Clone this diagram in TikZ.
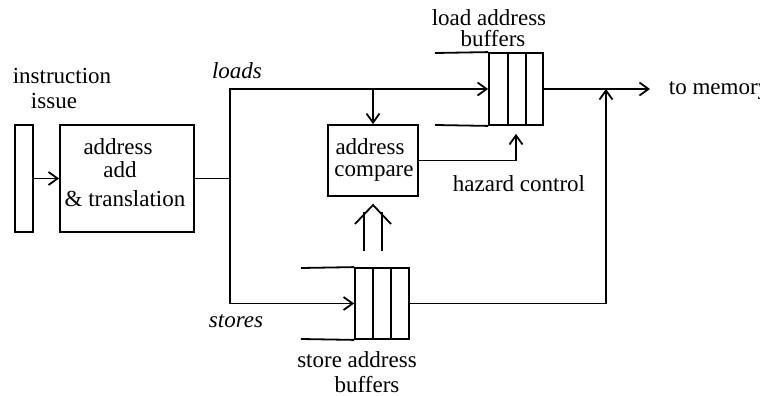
\documentclass[tikz,border=0pt]{standalone}
\usepackage{fontspec}
\setmainfont{Liberation Serif}
\usetikzlibrary{arrows.meta,positioning}
\begin{document}
\begin{tikzpicture}[x=0.5pt,y=-0.5pt,
  line width=0.9pt,
  every node/.style={font=\fontsize{11.5}{12}\selectfont, inner sep=0pt},
  box/.style={draw, line width=0.9pt},
  arr/.style={-{Straight Barb[length=4.5pt,width=6.5pt,line width=0.9pt]}},
  lbl/.style={align=center}]
\useasboundingbox (0,0) rectangle (760,396);
% boxes
\node[box, minimum width=9pt, minimum height=53.5pt] (bar) at (24,178.5) {};
\node[box, minimum width=67pt, minimum height=53.5pt] (addr) at (127,178.5) {};
\node[box, minimum width=45pt, minimum height=35.5pt] (cmp) at (373,160.5) {};
\node[box, minimum width=27pt, minimum height=36pt] (lbuf) at (516,89) {};
\node[box, minimum width=27pt, minimum height=35.5pt] (sbuf) at (382,303.5) {};
% buffer details
\draw (435,53) -- (lbuf.north west);
\draw (435,125) -- (lbuf.south west);
\draw (508,53) -- (508,125);
\draw (526,53) -- (526,125);
\draw (301,268) -- (sbuf.north west);
\draw (301,339) -- (sbuf.south west);
\draw (373,268) -- (373,339);
\draw (391,268) -- (391,339);
% coordinates
\coordinate (jn) at (230,178.5);
\coordinate (ltop) at (230,89);
\coordinate (sbot) at (230,303.5);
\coordinate (br) at (373,89);
\coordinate (mem) at (650,89);
\coordinate (up) at (606,89);
% connectors
\draw[arr] (bar) -- (addr);
\draw (addr.east) -- (jn);
\draw[arr] (sbot) -- (ltop) -- (lbuf.west);
\draw[arr] (ltop) -- (sbot) -- (sbuf.west);
\draw[arr] (br) -- (cmp.north);
\draw[arr, shorten >=4pt] (cmp.east) -| (lbuf.south);
\draw[arr] (lbuf.east) -- (mem);
\draw[arr] (sbuf.east) -| (up);
% double arrow
\draw (364,251) -- (364,212);
\draw (382,251) -- (382,212);
\draw (355,224) -- (373,205) -- (391,224);
% texts
\node at (62,76) {instruction};
\node at (54,101) {issue};
\node at (118,147) {address};
\node at (120,170) {add};
\node at (125,199) {\& translation};
\node at (237,71) {\itshape loads};
\node at (236,321) {\itshape stores};
\node at (489,18) {load address};
\node at (493,39) {buffers};
\node at (370,147) {address};
\node at (374,174) {compare};
\node at (519,184) {hazard control};
\node at (357,360) {store address};
\node at (367,385) {buffers};
\node[anchor=west] at (668,91) {to memory};
\end{tikzpicture}
\end{document}
